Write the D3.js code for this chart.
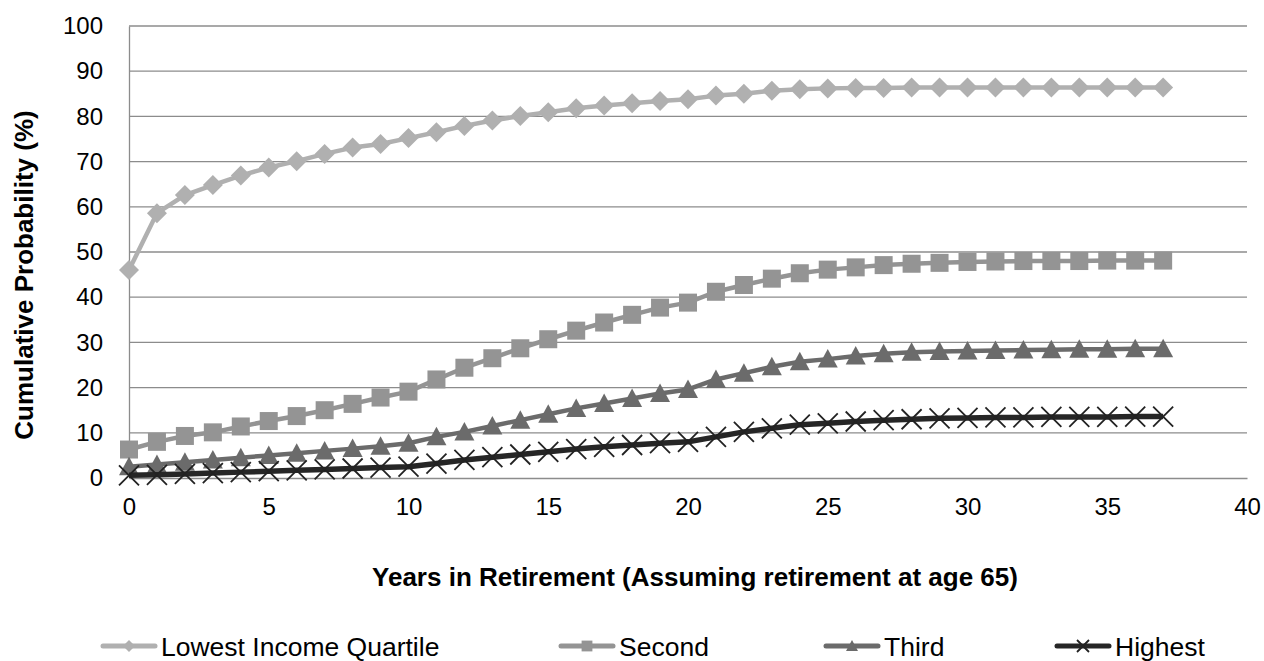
<!DOCTYPE html>
<html>
<head>
<meta charset="utf-8">
<script src="https://cdn.jsdelivr.net/npm/d3@7"></script>
<style>
  body { margin: 0; background: #fff; }
  svg text { font-family: "Liberation Sans", Arial, sans-serif; }
</style>
</head>
<body>
<div id="chart"></div>
<script>
// Years in retirement (0..37)
var years = d3.range(0, 38);

var seriesNames = ['Lowest Income Quartile', 'Second', 'Third', 'Highest'];

var lowest = [46, 58.6, 62.6, 64.8, 66.9, 68.7, 70.1, 71.7, 73.1, 73.9,
    75.2, 76.5, 77.9, 79.1, 80.1, 80.9, 81.8, 82.4, 82.9, 83.4,
    83.8, 84.6, 85.0, 85.7, 86.0, 86.2, 86.3, 86.3, 86.4, 86.4,
    86.4, 86.4, 86.4, 86.4, 86.4, 86.4, 86.4, 86.4];

var second = [6.3, 8.0, 9.3, 10.1, 11.4, 12.6, 13.7, 15.0, 16.4, 17.8,
    19.1, 21.8, 24.4, 26.5, 28.7, 30.7, 32.6, 34.4, 36.1, 37.7,
    38.8, 41.2, 42.7, 44.1, 45.3, 46.1, 46.6, 47.1, 47.4, 47.6,
    47.8, 47.9, 48.0, 48.0, 48.0, 48.1, 48.1, 48.1];

var third = [2.5, 3.0, 3.5, 4.0, 4.5, 5.0, 5.5, 6.0, 6.5, 7.0,
    7.7, 9.1, 10.2, 11.5, 12.8, 14.1, 15.4, 16.5, 17.6, 18.7,
    19.6, 21.8, 23.2, 24.6, 25.7, 26.3, 27.0, 27.5, 27.8, 28.0,
    28.1, 28.2, 28.3, 28.4, 28.5, 28.5, 28.6, 28.6];

var highest = [0.6, 0.7, 0.9, 1.1, 1.3, 1.5, 1.7, 1.9, 2.1, 2.3,
    2.5, 3.2, 4.0, 4.6, 5.2, 5.8, 6.4, 6.9, 7.3, 7.7,
    8.0, 9.1, 10.2, 11.0, 11.8, 12.1, 12.5, 12.8, 13.0, 13.2,
    13.3, 13.4, 13.4, 13.5, 13.5, 13.5, 13.6, 13.6];

var xTicks = [0, 5, 10, 15, 20, 25, 30, 35, 40];
var yTicks = [0, 10, 20, 30, 40, 50, 60, 70, 80, 90, 100];

var colors = ['#b0b0b0', '#949494', '#6b6b6b', '#262626'];
var markers = ['diamond', 'square', 'triangle', 'cross'];

var width = 1264, height = 661;
var margin = { top: 26, right: 17, bottom: 183, left: 129 };
var innerW = width - margin.left - margin.right;
var innerH = height - margin.top - margin.bottom;

var svg = d3.select('#chart')
    .append('svg')
    .attr('width', width)
    .attr('height', height);

var g = svg.append('g')
    .attr('transform', `translate(${margin.left},${margin.top})`);

var xScale = d3.scaleLinear().domain([0, 40]).range([0, innerW]);
var yScale = d3.scaleLinear().domain([0, 100]).range([innerH, 0]);

// Gridlines
g.append('g')
    .selectAll('line')
    .data(yTicks.filter(d => d > 0))
    .enter()
    .append('line')
    .attr('x1', 0)
    .attr('x2', innerW)
    .attr('y1', d => yScale(d))
    .attr('y2', d => yScale(d))
    .attr('stroke', '#8c8c8c')
    .attr('stroke-width', 1.3);

// Axes
var yAxis = g.append('g')
    .call(d3.axisLeft(yScale).tickValues(yTicks).tickSize(0).tickPadding(26));
yAxis.select('.domain').attr('stroke', '#8c8c8c').attr('stroke-width', 1.3);
yAxis.selectAll('text')
    .attr('font-size', '24px')
    .attr('fill', '#000');

var xAxis = g.append('g')
    .attr('transform', `translate(0,${innerH})`)
    .call(d3.axisBottom(xScale).tickValues(xTicks).tickSize(0).tickPadding(20));
xAxis.select('.domain').attr('stroke', '#8c8c8c').attr('stroke-width', 1.3);
xAxis.selectAll('text')
    .attr('font-size', '24px')
    .attr('fill', '#000');

// Axis titles
svg.append('text')
    .attr('transform', 'rotate(-90)')
    .attr('x', -275)
    .attr('y', 33)
    .attr('text-anchor', 'middle')
    .attr('font-size', '26px')
    .attr('font-weight', 'bold')
    .attr('fill', '#000')
    .text('Cumulative Probability (%)');

svg.append('text')
    .attr('x', 695)
    .attr('y', 586)
    .attr('text-anchor', 'middle')
    .attr('font-size', '26px')
    .attr('font-weight', 'bold')
    .attr('fill', '#000')
    .text('Years in Retirement (Assuming retirement at age 65)');

// Marker drawing
function drawMarker(sel, type, color, size) {
    var h = size / 2;
    if (type === 'diamond') {
        sel.append('path')
            .attr('d', `M0,${-h}L${h},0L0,${h}L${-h},0Z`)
            .attr('fill', color);
    } else if (type === 'square') {
        var s = h * 0.9;
        sel.append('rect')
            .attr('x', -s).attr('y', -s)
            .attr('width', 2 * s).attr('height', 2 * s)
            .attr('fill', color);
    } else if (type === 'triangle') {
        sel.append('path')
            .attr('d', `M0,${-h}L${h},${h * 0.85}L${-h},${h * 0.85}Z`)
            .attr('fill', color);
    } else {
        sel.append('path')
            .attr('d', `M${-h},${-h}L${h},${h}M${h},${-h}L${-h},${h}`)
            .attr('stroke', '#222')
            .attr('stroke-width', 1.8)
            .attr('fill', 'none');
    }
}

var allSeries = [lowest, second, third, highest];

var line = d3.line()
    .x((d, i) => xScale(years[i]))
    .y(d => yScale(d));

allSeries.forEach(function(values, k) {
    g.append('path')
        .datum(values)
        .attr('fill', 'none')
        .attr('stroke', colors[k])
        .attr('stroke-width', k === 3 ? 5.5 : 4.5)
        .attr('stroke-linejoin', 'round')
        .attr('d', line);

    g.selectAll('.pt' + k)
        .data(values)
        .enter()
        .append('g')
        .attr('class', 'pt' + k)
        .attr('transform', (d, i) => `translate(${xScale(years[i])},${yScale(d)})`)
        .each(function() {
            drawMarker(d3.select(this), markers[k], colors[k], 20);
        });
});

// Legend
var legendX = [100, 558, 823, 1054];
var legend = svg.append('g').attr('transform', 'translate(0,646)');

seriesNames.forEach(function(name, k) {
    var item = legend.append('g').attr('transform', `translate(${legendX[k]},0)`);
    item.append('line')
        .attr('x1', 3).attr('x2', 55)
        .attr('y1', 0).attr('y2', 0)
        .attr('stroke', colors[k])
        .attr('stroke-width', 5)
        .attr('stroke-linecap', 'round');
    var m = item.append('g').attr('transform', 'translate(29,0)');
    drawMarker(m, markers[k], colors[k], 12);
    item.append('text')
        .attr('x', 61)
        .attr('y', 9.5)
        .attr('font-size', '26.5px')
        .attr('fill', '#000')
        .text(name);
});
</script>
</body>
</html>
